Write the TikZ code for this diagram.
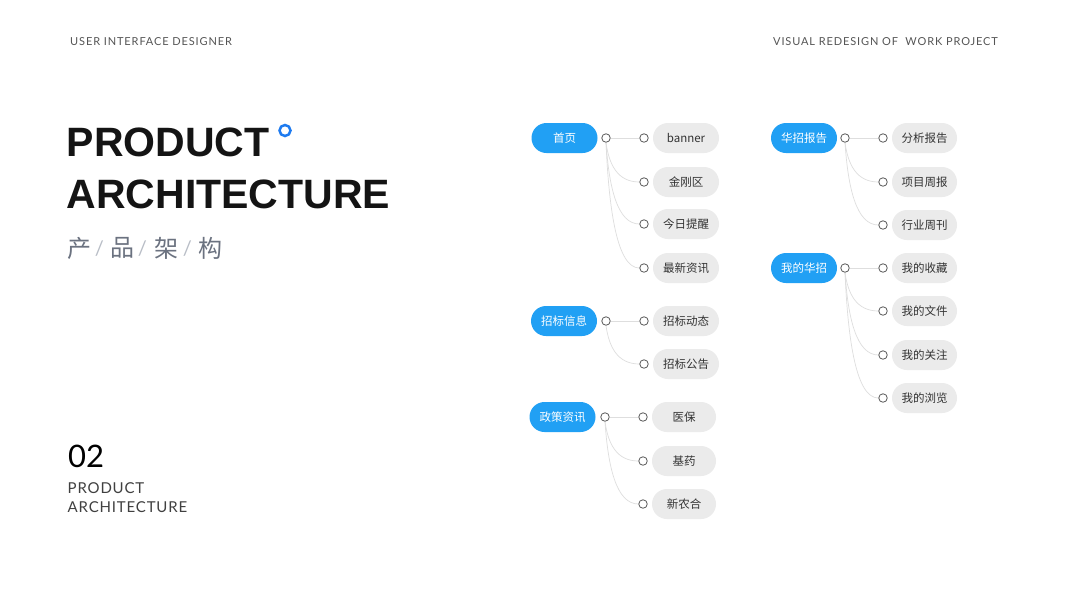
\documentclass[tikz,border=0pt]{standalone}
\usepackage{fontspec}
\usetikzlibrary{calc,backgrounds}
\setmainfont{Lato}
\newfontfamily\hdrfont[LetterSpace=8]{Lato}
\newfontfamily\subfont[LetterSpace=5.5]{Lato}
\newfontfamily\cjk{Noto Sans CJK SC}
\newfontfamily\titlefont{Liberation Sans}
\definecolor{pblue}{HTML}{21A0F4}
\definecolor{dotblue}{HTML}{1E7BF0}
\definecolor{pgray}{HTML}{EBEBEB}
\definecolor{edgegray}{HTML}{DEDEDE}
\definecolor{txtgray}{HTML}{555555}
\definecolor{cngray}{HTML}{6B7280}
\definecolor{slashgray}{HTML}{B8BDC6}
\tikzset{
  ppill/.style={fill=pblue, rounded corners=15pt, minimum width=66pt, minimum height=30pt, inner sep=0pt, text=white, font=\cjk\fontsize{11.5}{14}\selectfont},
  cpill/.style={fill=pgray, rounded corners=15pt, minimum width=66pt, minimum height=30pt, inner sep=0pt, text=black!80, font=\cjk\fontsize{11.5}{14}\selectfont},
  dot/.style={circle, draw=black!65, line width=0.8pt, fill=white, minimum size=8.5pt, inner sep=0pt},
  edge/.style={draw=edgegray, line width=0.7pt},
  hdr/.style={anchor=west, inner sep=0pt, text=txtgray, font=\hdrfont\fontsize{11}{13}\selectfont},
  ttl/.style={anchor=base west, inner sep=0pt, text=black!92, font=\titlefont\bfseries\fontsize{41}{44}\selectfont},
  sub/.style={anchor=base west, inner sep=0pt, text=black!75, font=\subfont\fontsize{15}{18}\selectfont},
}
\begin{document}
\begin{tikzpicture}[x=1pt,y=-1pt]
\useasboundingbox (0,0) rectangle (1067,600);
\begin{scope}[on background layer]
\fill[white] (0,0) rectangle (1067,600);
\end{scope}

% headers
\node[hdr] (h1) at (70,42) {USER INTERFACE DESIGNER};
\node[hdr] (h2) at (773,42) {VISUAL REDESIGN OF\ \ WORK PROJECT};

% title
\node[ttl] (t1) at (66.5,156) {PRODUCT};
\node[ttl] (t2) at (66.5,208) {ARCHITECTURE};
\draw[dotblue, line width=2.5pt] (285,130.5) circle (5.5pt);

% chinese subtitle
\begin{scope}[every node/.style={inner sep=0pt, text=cngray, font=\cjk\fontsize{24}{26}\selectfont}]
\node (s1) at (79,248) {产};
\node (s2) at (122.5,248) {品};
\node (s3) at (166.5,248) {架};
\node (s4) at (210,248) {构};
\end{scope}
\begin{scope}[every node/.style={inner sep=0pt, text=slashgray, font=\fontsize{20}{22}\selectfont}]
\node (sl1) at (99.5,249) {/};
\node (sl2) at (142.5,249) {/};
\node (sl3) at (187.5,249) {/};
\end{scope}

% 02
\node[anchor=base west, inner sep=0pt, text=black, font=\fontsize{31}{34}\selectfont] (n02) at (68,467) {02};
\node[sub] (b1) at (67.5,493.5) {PRODUCT};
\node[sub] (b2) at (67.5,512) {ARCHITECTURE};

% ---------- group 1
\node[ppill] (g1) at (564.5,138) {首页};
\node[dot] (g1o) at (606,138) {};
\foreach \y/\t [count=\i] in {138/banner,182/金刚区,224/今日提醒,268/最新资讯}{
  \node[dot] (g1c\i o) at (644,\y) {};
  \node[cpill] (g1c\i) at (686,\y) {\t};
}
% ---------- group 2
\node[ppill] (g2) at (564,321) {招标信息};
\node[dot] (g2o) at (606,321) {};
\foreach \y/\t [count=\i] in {321/招标动态,364/招标公告}{
  \node[dot] (g2c\i o) at (644,\y) {};
  \node[cpill] (g2c\i) at (686,\y) {\t};
}
% ---------- group 3
\node[ppill] (g3) at (562.5,417) {政策资讯};
\node[dot] (g3o) at (605,417) {};
\foreach \y/\t [count=\i] in {417/医保,461/基药,504/新农合}{
  \node[dot] (g3c\i o) at (643,\y) {};
  \node[cpill, minimum width=64pt] (g3c\i) at (684,\y) {\t};
}
% ---------- group 4
\node[ppill] (g4) at (804,138) {华招报告};
\node[dot] (g4o) at (845,138) {};
\foreach \y/\t [count=\i] in {138/分析报告,182/项目周报,225/行业周刊}{
  \node[dot] (g4c\i o) at (883,\y) {};
  \node[cpill, minimum width=65pt] (g4c\i) at (924.5,\y) {\t};
}
% ---------- group 5
\node[ppill] (g5) at (804,268) {我的华招};
\node[dot] (g5o) at (845,268) {};
\foreach \y/\t [count=\i] in {268/我的收藏,311/我的文件,355/我的关注,398/我的浏览}{
  \node[dot] (g5c\i o) at (883,\y) {};
  \node[cpill, minimum width=65pt] (g5c\i) at (924.5,\y) {\t};
}

% edges
\begin{scope}[on background layer]
\foreach \g/\n in {g1/4,g2/2,g3/3,g4/3,g5/4}{
  \draw[edge] (\g o.east) -- (\g c1o.west);
  \foreach \i in {2,...,\n}{
    \draw[edge] (\g o.south) .. controls ($(\g o.south)!0.55!(\g o.south|-\g c\i o.west)+(3,0)$) and ($(\g c\i o.west)+(-22,0)$) .. (\g c\i o.west);
  }
}
\end{scope}
\end{tikzpicture}
\end{document}
